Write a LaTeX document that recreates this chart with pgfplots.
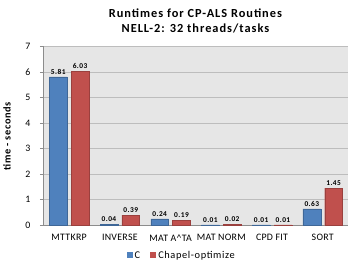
\documentclass[border=0pt]{standalone}
\usepackage{pgfplots}
\pgfplotsset{compat=1.18}
\usepackage{fontspec}
\setmainfont{Carlito}[LetterSpace=6]
\definecolor{cblue}{HTML}{4F81BD}
\definecolor{cred}{HTML}{C0504D}
\definecolor{bgg}{HTML}{E6E6E6}
\definecolor{gridg}{HTML}{BDBDBD}
\definecolor{axg}{HTML}{8C8C8C}
\begin{document}
\begin{tikzpicture}
\begin{axis}[
  at={(0,0)}, anchor=south west,
  scale only axis, width=307bp, height=180bp,
  ybar=4bp, bar width=18bp,
  xmin=-0.5, xmax=5.5, ymin=0, ymax=7,
  xtick=data,
  xticklabels={MTTKRP,INVERSE,MAT A\textasciicircum TA,MAT NORM,CPD FIT,SORT},
  ytick={0,1,2,3,4,5,6,7},
  major x tick style={draw=none},
  ytick style={axg, line width=0.6pt},
  major tick length=4bp,
  tick align=outside,
  ymajorgrids, grid style={gridg, line width=0.8pt},
  axis background/.style={fill=bgg},
  axis line style={axg, line width=0.6pt},
  axis x line*=bottom, axis y line*=left,
  tick label style={font=\fontsize{10}{11}\selectfont\addfontfeature{LetterSpace=3}},
  xticklabel style={yshift=-2bp},
  yticklabel style={xshift=-6bp},
  /pgf/number format/assume math mode=true,
  ylabel={\textbf{time - seconds}},
  ylabel style={font=\fontsize{10.5}{11}\selectfont, yshift=8bp},
  title={\textbf{Runtimes for CP-ALS Routines}\\\textbf{NELL-2: 32 threads/tasks}},
  title style={align=center, font=\fontsize{12.5}{15}\selectfont\addfontfeature{LetterSpace=8}, yshift=4bp},
  nodes near coords,
  nodes near coords style={font=\bfseries\fontsize{7.5}{8}\selectfont, /pgf/number format/fixed, /pgf/number format/fixed zerofill, /pgf/number format/precision=2, /pgf/number format/assume math mode=true, yshift=-1bp},
  legend style={at={(0.453,-0.125)}, anchor=north, legend columns=-1, draw=none, fill=none, font=\fontsize{10.5}{12}\selectfont, /tikz/every even column/.append style={column sep=8bp}},
  legend image code/.code={\draw[#1, draw=none] (0cm,-0.09cm) rectangle (0.22cm,0.13cm);},
]
\addplot[fill=cblue, draw=cblue!80!black] coordinates {(0,5.81) (1,0.04) (2,0.24) (3,0.01) (4,0.01) (5,0.63)};
\addplot[fill=cred, draw=cred!80!black] coordinates {(0,6.03) (1,0.39) (2,0.19) (3,0.02) (4,0.01) (5,1.45)};
\legend{C,Chapel-optimize}
\end{axis}
\path[use as bounding box] (-41bp,-43bp) rectangle (319bp,227bp);
\end{tikzpicture}
\end{document}
